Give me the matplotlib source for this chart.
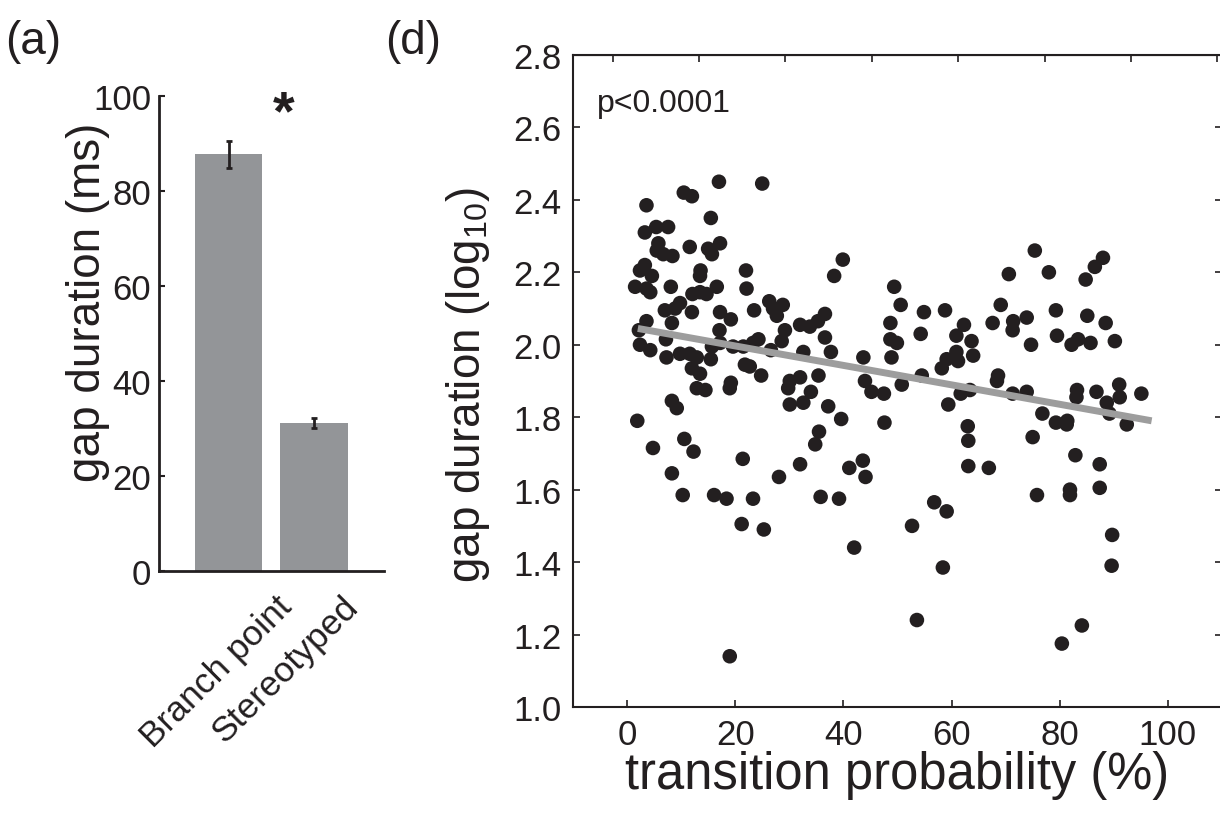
import numpy as np
import matplotlib
matplotlib.use('Agg')
import matplotlib.pyplot as plt

plt.rcParams['font.family'] = ['Liberation Sans', 'DejaVu Sans']
plt.rcParams['mathtext.default'] = 'regular'

INK = '#231f20'

# panel (a): mean gap duration per transition type
bar_labels = ['Branch point', 'Stereotyped']
bar_means = [87.7, 31.2]
bar_errs = [2.9, 1.1]

# panel (d): transition probability (%) vs gap duration (log10)
trans_prob = [
    17.0, 25.0, 10.5, 12.0, 3.6, 15.5, 5.4, 7.6, 3.3, 5.8,
    5.5, 6.7, 8.4, 11.6, 15.0, 17.2, 15.7, 3.3, 2.4, 4.6,
    1.5, 3.6, 4.3, 13.6, 13.5, 22.0, 8.1, 16.6, 22.1, 12.1,
    13.5, 14.7, 9.8, 8.9, 7.0, 12.0, 8.3, 17.2, 19.2, 23.5,
    26.3, 27.0, 3.6, 2.2, 17.1, 7.2, 2.4, 4.3, 15.7, 17.2,
    19.6, 21.5, 24.3, 23.3, 26.6, 7.3, 9.8, 11.6, 12.9, 12.0,
    13.5, 15.5, 21.8, 22.7, 24.8, 12.9, 14.5, 19.2, 19.0, 8.3,
    9.2, 1.9, 10.6, 4.8, 12.3, 21.4, 8.3, 10.3, 16.1, 18.4,
    23.3, 21.2, 25.3, 28.1, 19.0, 39.9, 38.3, 49.4, 50.6, 58.8,
    54.9, 28.8, 27.7, 48.7, 62.3, 36.6, 35.3, 33.8, 32.0, 29.2,
    28.6, 54.3, 60.9, 63.7, 67.6, 36.6, 48.7, 49.9, 32.6, 37.7,
    43.7, 48.9, 60.9, 64.0, 59.1, 61.2, 58.2, 54.5, 50.8, 44.0,
    45.2, 47.5, 32.0, 30.1, 29.8, 35.4, 34.0, 30.1, 32.6, 37.2,
    39.6, 47.6, 61.7, 63.4, 59.4, 63.0, 63.1, 35.5, 34.8, 32.0,
    43.6, 41.1, 44.1, 63.1, 66.9, 35.8, 39.2, 56.8, 59.1, 52.7,
    42.0, 58.4, 53.6, 75.4, 88.0, 86.5, 84.8, 70.6, 78.0, 69.1,
    71.4, 71.3, 73.9, 79.3, 85.1, 88.5, 74.7, 79.5, 82.2, 83.4,
    85.7, 90.2, 68.6, 68.4, 71.3, 73.9, 83.2, 83.1, 86.8, 91.0,
    91.1, 88.7, 89.2, 95.1, 76.8, 79.3, 81.4, 81.3, 92.4, 75.0,
    82.9, 87.4, 75.8, 81.9, 81.9, 87.4, 89.7, 89.6, 84.1, 80.4,
]
gap_log = [
    2.45, 2.445, 2.42, 2.41, 2.385, 2.35, 2.325, 2.325, 2.31, 2.28,
    2.26, 2.25, 2.245, 2.27, 2.265, 2.28, 2.25, 2.22, 2.205, 2.19,
    2.16, 2.155, 2.145, 2.205, 2.19, 2.205, 2.16, 2.16, 2.155, 2.14,
    2.145, 2.14, 2.115, 2.10, 2.095, 2.09, 2.06, 2.09, 2.07, 2.095,
    2.12, 2.10, 2.065, 2.04, 2.04, 2.015, 2.0, 1.985, 1.995, 2.005,
    1.995, 1.995, 2.015, 2.005, 1.985, 1.965, 1.975, 1.975, 1.965, 1.935,
    1.92, 1.96, 1.945, 1.94, 1.915, 1.88, 1.875, 1.895, 1.88, 1.845,
    1.825, 1.79, 1.74, 1.715, 1.705, 1.685, 1.645, 1.585, 1.585, 1.575,
    1.575, 1.505, 1.49, 1.635, 1.14, 2.235, 2.19, 2.16, 2.11, 2.095,
    2.09, 2.11, 2.08, 2.06, 2.055, 2.085, 2.065, 2.05, 2.055, 2.04,
    2.01, 2.03, 2.025, 2.01, 2.06, 2.02, 2.015, 2.005, 1.98, 1.98,
    1.965, 1.965, 1.98, 1.97, 1.96, 1.955, 1.935, 1.915, 1.89, 1.90,
    1.87, 1.865, 1.91, 1.90, 1.88, 1.915, 1.87, 1.835, 1.84, 1.83,
    1.795, 1.785, 1.865, 1.875, 1.835, 1.775, 1.735, 1.76, 1.725, 1.67,
    1.68, 1.66, 1.635, 1.665, 1.66, 1.58, 1.575, 1.565, 1.54, 1.50,
    1.44, 1.385, 1.24, 2.26, 2.24, 2.215, 2.18, 2.195, 2.20, 2.11,
    2.065, 2.04, 2.075, 2.095, 2.08, 2.06, 2.0, 2.025, 2.0, 2.015,
    2.005, 2.01, 1.915, 1.90, 1.865, 1.87, 1.875, 1.855, 1.87, 1.89,
    1.855, 1.84, 1.81, 1.865, 1.81, 1.785, 1.79, 1.78, 1.78, 1.745,
    1.695, 1.67, 1.585, 1.60, 1.585, 1.605, 1.475, 1.39, 1.225, 1.175,
]
# regression line end points
fit_x = [2.0, 97.0]
fit_y = [2.045, 1.79]

x_ticks = [0, 20, 40, 60, 80, 100]
y_ticks = [1.0, 1.2, 1.4, 1.6, 1.8, 2.0, 2.2, 2.4, 2.6, 2.8]
top_ticks = [-2.6, 13.3, 29.3, 45.3, 61.2, 77.2, 93.1, 109.0]

fig = plt.figure(figsize=(12.2, 8.29), dpi=100)

# ---- (a) bar chart ----
ax1 = fig.add_axes([0.1307, 0.310, 0.184, 0.573])
pos = np.arange(1, len(bar_labels) + 1)
ax1.bar(pos, bar_means, width=0.79, color='#939598', zorder=1)
ax1.errorbar(pos, bar_means, yerr=bar_errs, fmt='none', ecolor=INK,
             elinewidth=2, capsize=2.5, capthick=2, zorder=2)
ax1.text(1.64, 96.2, '*', fontsize=40, fontweight='bold', color=INK,
         ha='center', va='center')
ax1.set_xlim(0.19, 2.82)
ax1.set_ylim(0, 100)
ax1.set_yticks([0, 20, 40, 60, 80, 100])
# the rotated labels sit a little left of their bars in the original;
# x ticks are invisible, so only the labels move
ax1.set_xticks(pos + np.array([-0.14, -0.33]))
ax1.set_xticklabels(bar_labels, rotation=45, ha='center', va='top')
ax1.tick_params(axis='x', length=0, pad=13, labelsize=25.5, colors=INK)
ax1.tick_params(axis='y', direction='in', length=4.5, width=1.5,
                labelsize=25, colors=INK, pad=6)
for s in ['top', 'right']:
    ax1.spines[s].set_visible(False)
for s in ['left', 'bottom']:
    ax1.spines[s].set_linewidth(2)
    ax1.spines[s].set_color(INK)
ax1.set_ylabel('gap duration (ms)', fontsize=33, color=INK)
ax1.yaxis.set_label_coords(-0.22, 0.568)

# ---- (d) scatter ----
ax2 = fig.add_axes([0.4696, 0.146, 0.532, 0.7865])
ax2.scatter(trans_prob, gap_log, s=110, color=INK, edgecolors='none',
            zorder=2)
ax2.plot(fit_x, fit_y, color='#9d9d9d', linewidth=5, solid_capstyle='butt',
         zorder=3)
ax2.text(-5.5, 2.668, 'p<0.0001', fontsize=23, color=INK,
         ha='left', va='center')
ax2.set_xlim(-10, 110)
ax2.set_ylim(1.0, 2.8)
ax2.set_xticks(x_ticks)
ax2.set_yticks(y_ticks)
ax2.set_yticklabels(['%.1f' % v for v in y_ticks])
ax2.tick_params(axis='both', direction='in', length=5, width=1.2,
                labelsize=25, colors=INK, pad=8)
ax2.tick_params(axis='y', right=True)
top = ax2.secondary_xaxis('top')
top.set_xticks(top_ticks)
top.set_xticklabels([])
top.tick_params(direction='in', length=5, width=1.2, colors=INK)
for s in ax2.spines.values():
    s.set_linewidth(1.5)
    s.set_color(INK)
ax2.set_xlabel('transition probability (%)', fontsize=36.5, color=INK,
               labelpad=-1)
ax2.set_ylabel('gap duration (log$_{10}$)', fontsize=33, color=INK)
ax2.yaxis.set_label_coords(-0.125, 0.495)

fig.text(5 / 1220, 1 - 42 / 829, '(a)', fontsize=33, color=INK,
         ha='left', va='center')
fig.text(385 / 1220, 1 - 42 / 829, '(d)', fontsize=33, color=INK,
         ha='left', va='center')

fig.savefig('out.png', dpi=100, facecolor='white')
